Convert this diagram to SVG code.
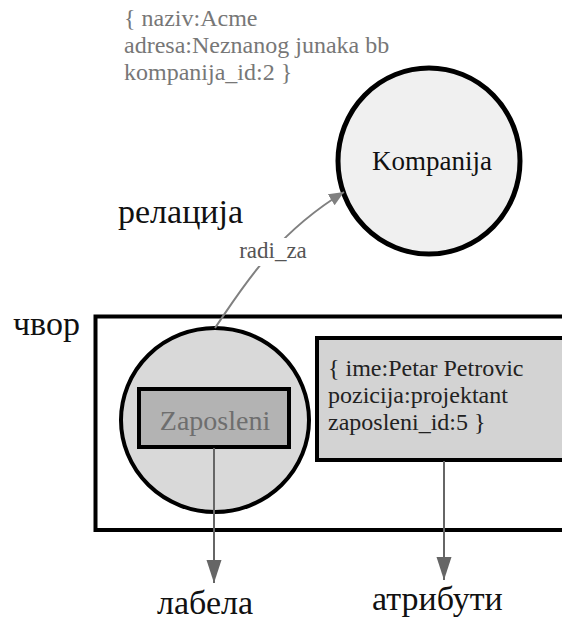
<svg xmlns="http://www.w3.org/2000/svg" width="562" height="620" viewBox="0 0 562 620">
  <style>
    text { font-family: "Liberation Serif", "DejaVu Serif", serif; }
    .note { font-size: 24px; fill: #777777; }
    .attr { font-size: 24px; fill: #222222; }
    .caption { font-size: 34px; fill: #111111; }
    .edge-label { font-size: 23px; fill: #555555; }
    .conn { fill: none; stroke-width: 2; }
  </style>
  <defs>
    <marker id="head-rel" markerUnits="userSpaceOnUse" markerWidth="16" markerHeight="14" refX="15" refY="6.5" orient="auto">
      <path d="M0,0 L15,6.5 L0,13 z" fill="#808080"/>
    </marker>
    <marker id="head-down" markerUnits="userSpaceOnUse" markerWidth="24" markerHeight="16" refX="23" refY="7.5" orient="auto">
      <path d="M0,0 L23,7.5 L0,15 z" fill="#666666"/>
    </marker>
  </defs>

  <rect width="562" height="620" fill="#ffffff"/>

  <!-- property map of the company node -->
  <g id="company-props">
    <text class="note" x="124" y="26">{ naziv:Acme</text>
    <text class="note" x="124" y="53">adresa:Neznanog junaka bb</text>
    <text class="note" x="124" y="80">kompanija_id:2 }</text>
  </g>

  <!-- company node -->
  <g id="kompanija">
    <ellipse cx="429" cy="161" rx="91" ry="93" fill="#f0f0f0" stroke="#000000" stroke-width="5"/>
    <text x="432" y="170" font-size="27" text-anchor="middle" fill="#111111">Kompanija</text>
  </g>

  <!-- outer node frame -->
  <g id="cvor">
    <rect x="95.5" y="316.5" width="480" height="213.5" fill="none" stroke="#000000" stroke-width="4"/>
  </g>

  <!-- employee node with its label -->
  <g id="zaposleni">
    <ellipse cx="215" cy="420" rx="94" ry="92" fill="#d9d9d9" stroke="#000000" stroke-width="4"/>
    <rect x="139" y="389" width="150" height="58" fill="#b3b3b3" stroke="#000000" stroke-width="4"/>
    <text x="215" y="430" font-size="28" text-anchor="middle" fill="#6e6e6e">Zaposleni</text>
  </g>

  <!-- attributes of the employee node -->
  <g id="atributi">
    <rect x="317" y="338" width="260" height="122" fill="#d3d3d3" stroke="#000000" stroke-width="4"/>
    <text class="attr" x="328" y="376">{ ime:Petar Petrovic</text>
    <text class="attr" x="328" y="403">pozicija:projektant</text>
    <text class="attr" x="328" y="430">zaposleni_id:5 }</text>
  </g>

  <!-- connectors -->
  <g id="connectors">
    <path class="conn" d="M215,328 C240,292 272,236 344,192" stroke="#808080" marker-end="url(#head-rel)"/>
    <rect x="236" y="238" width="74" height="28" fill="#ffffff"/>
    <text class="edge-label" x="273" y="258" text-anchor="middle">radi_za</text>
    <path class="conn" d="M214,448 L214,583" stroke="#666666" marker-end="url(#head-down)"/>
    <path class="conn" d="M444,461 L444,580" stroke="#666666" marker-end="url(#head-down)"/>
  </g>

  <!-- captions -->
  <g id="captions">
    <text class="caption" x="118" y="223">релација</text>
    <text class="caption" x="13" y="335">чвор</text>
    <text class="caption" x="157" y="614">лабела</text>
    <text class="caption" x="372" y="610">атрибути</text>
  </g>
</svg>
